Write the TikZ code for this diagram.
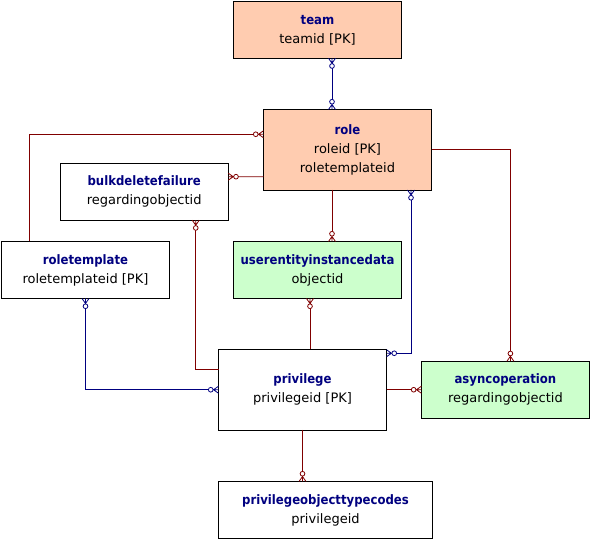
\documentclass[tikz,border=0pt]{standalone}
\usepackage{fontspec}
\setmainfont{DejaVu Sans}
\newfontfamily\titlefont[FakeStretch=0.9]{DejaVu Sans}
\usepackage{xcolor}
\usetikzlibrary{arrows.meta}

\definecolor{navy}{HTML}{000080}
\definecolor{darkred}{HTML}{800000}
\definecolor{peach}{HTML}{FFCCB0}
\definecolor{mint}{HTML}{CCFFCC}

\newcommand{\enttitle}[1]{{\titlefont\bfseries\color{navy}#1}}

% crow's foot tip
\pgfdeclarearrow{
  name = Crow,
  setup code = {
    \pgfarrowssettipend{0pt}
    \pgfarrowssetbackend{-5pt}
    \pgfarrowssetlineend{-5pt}
    \pgfarrowsupperhullpoint{0pt}{3.5pt}
    \pgfarrowsupperhullpoint{-5pt}{0pt}
  },
  drawing code = {
    \pgfpathmoveto{\pgfqpoint{0pt}{3.5pt}}
    \pgfpathlineto{\pgfqpoint{-5pt}{0pt}}
    \pgfpathlineto{\pgfqpoint{0pt}{-3.5pt}}
    \pgfpathmoveto{\pgfqpoint{0pt}{0pt}}
    \pgfpathlineto{\pgfqpoint{-5pt}{0pt}}
    \pgfusepathqstroke
  }
}

\tikzset{
  ent/.style={draw, line width=0.8pt, minimum width=168pt, minimum height=57pt,
    align=center, inner sep=0pt, outer sep=0pt, font=\fontsize{13}{19}\selectfont},
  redline/.style={darkred, line width=0.8pt},
  blueline/.style={navy, line width=0.8pt},
  crowend/.style={-{Circle[fill=white,length=5.5pt,width=5.5pt,sep=0pt]Crow[]}},
  crowstart/.style={{Crow[] Circle[fill=white,length=5.5pt,width=5.5pt,sep=0pt]}-},
  crowboth/.style={{Crow[] Circle[fill=white,length=5.5pt,width=5.5pt,sep=0pt]}-{Circle[fill=white,length=5.5pt,width=5.5pt,sep=0pt]Crow[]}}
}

\begin{document}
\begin{tikzpicture}[x=1pt,y=-1pt]
  \useasboundingbox (0,0) rectangle (590,540);

  % entities
  \node[ent, fill=peach, minimum height=56.5pt] (team) at (317.5,30) {\enttitle{team}\\teamid [PK]};
  \node[ent, fill=peach, minimum height=80.5pt] (role) at (347.5,149.75) {\enttitle{role}\\roleid [PK]\\roletemplateid};
  \node[ent, fill=white] (bdf) at (144.25,191.7) {\enttitle{bulkdeletefailure}\\regardingobjectid};
  \node[ent, fill=white] (rt) at (85.5,270) {\enttitle{roletemplate}\\roletemplateid [PK]};
  \node[ent, fill=mint] (uid) at (317.5,270) {\enttitle{userentityinstancedata}\\objectid};
  \node[ent, fill=white, minimum height=80.5pt] (priv) at (302.5,389.75) {\enttitle{privilege}\\privilegeid [PK]};
  \node[ent, fill=mint] (async) at (505.4,389.75) {\enttitle{asyncoperation}\\regardingobjectid};
  \node[ent, fill=white, minimum width=214pt] (pot) at (325.5,510) {\enttitle{privilegeobjecttypecodes}\\privilegeid};

  % relationships
  \draw[blueline, crowboth] ([xshift=14.5pt]team.south) -- ([xshift=-15.5pt]role.north);
  \draw[redline, crowstart] ([yshift=15.5pt]role.west) -| ([xshift=-55.8pt]rt.north);
  \draw[redline, crowend] ([yshift=-27pt]role.west) -- ([yshift=15pt]bdf.east);
  \draw[redline, crowend] ([xshift=-15.5pt]role.south) -- ([xshift=14.5pt]uid.north);
  \draw[redline, crowend] (role.east) -| ([xshift=5pt]async.north);
  \draw[blueline, crowboth] ([xshift=63.5pt]role.south) |- ([yshift=36.5pt]priv.east);
  \draw[redline, crowstart] ([xshift=51.5pt]bdf.south) |- ([yshift=20.5pt]priv.west);
  \draw[redline, crowstart] ([xshift=-7.5pt]uid.south) -- ([xshift=7.5pt]priv.north);
  \draw[blueline, crowboth] (rt.south) |- (priv.west);
  \draw[redline, crowend] (priv.east) -- (async.west);
  \draw[redline, crowend] (priv.south) -- ([xshift=-23pt]pot.north);
\end{tikzpicture}
\end{document}
